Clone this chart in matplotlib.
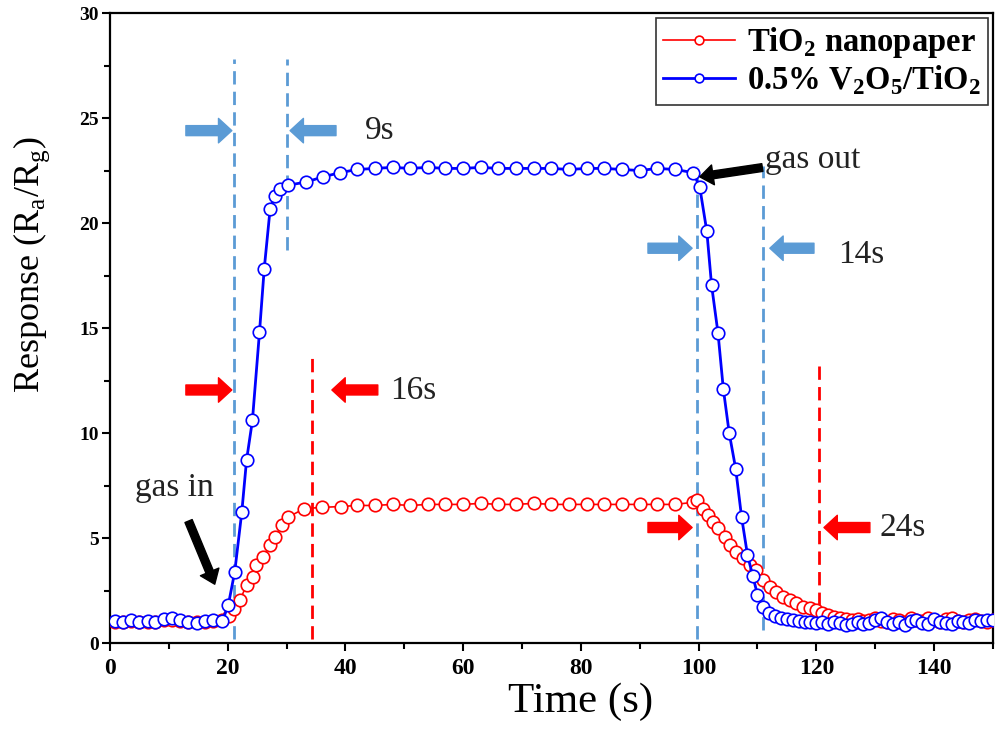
import numpy as np
import matplotlib.pyplot as plt
from matplotlib.ticker import MultipleLocator

plt.rcParams['font.family'] = 'Liberation Serif'
plt.rcParams['mathtext.fontset'] = 'custom'
plt.rcParams['mathtext.rm'] = 'Liberation Serif'
plt.rcParams['mathtext.bf'] = 'Liberation Serif:bold'

# V2O5/TiO2 (blue)
blue_t = [0.8, 2.2, 3.6, 5.0, 6.4, 7.6, 9.2, 10.5, 11.9, 13.3, 14.8, 16.2, 17.5, 19.1,
          20.1, 21.2, 22.4, 23.2, 24.2, 25.4, 26.2, 27.2, 28.0, 28.9, 30.2, 33.3, 36.2, 39.1,
          42, 45, 48, 51, 54, 57, 60, 63, 66, 69, 72, 75, 78, 81, 84, 87, 90, 93, 96,
          99.1, 100.2, 101.4, 102.2, 103.3, 104.2, 105.2, 106.3, 107.3, 108.3, 109.2, 110.0, 111.0,
          112, 113, 114, 115, 116, 117, 118, 119, 120, 121, 122, 123, 124, 125, 126, 127, 128,
          129, 130, 131, 132, 133, 134, 135, 136, 137, 138, 139, 140, 141, 142, 143, 144, 145,
          146, 147, 148, 149, 150]
blue_r = [1.05, 1.0, 1.1, 1.0, 1.05, 1.0, 1.15, 1.2, 1.1, 1.0, 0.95, 1.05, 1.1, 1.05,
          1.8, 3.4, 6.25, 8.7, 10.6, 14.8, 17.8, 20.65, 21.3, 21.6, 21.8, 21.95, 22.2, 22.4,
          22.55, 22.6, 22.65, 22.6, 22.65, 22.6, 22.6, 22.65, 22.6, 22.6, 22.6, 22.6, 22.55,
          22.6, 22.6, 22.55, 22.5, 22.6, 22.55,
          22.4, 21.7, 19.6, 17.05, 14.75, 12.1, 10.0, 8.3, 6.0, 4.2, 3.2, 2.3, 1.73,
          1.45, 1.3, 1.2, 1.15, 1.1, 1.05, 1.0, 1.0, 0.95, 1.0, 0.9, 1.0, 0.95, 0.85, 0.9, 1.0, 0.9,
          0.95, 1.1, 1.2, 1.0, 0.9, 1.0, 0.85, 1.05, 1.1, 0.95, 0.9, 1.15, 1.0, 0.95, 0.9, 1.05, 1.0,
          0.95, 1.1, 1.05, 1.1, 1.1]

# TiO2 nanopaper (red)
red_t = [0.8, 2.2, 3.6, 5.0, 6.4, 7.6, 9.2, 10.5, 11.9, 13.3, 14.8, 16.2, 17.5, 19.1,
         20.3, 21.0, 22.1, 23.2, 24.3, 24.8, 26.0, 27.2, 28.0, 29.2, 30.3, 33.0, 36.1, 39.2,
         42, 45, 48, 51, 54, 57, 60, 63, 66, 69, 72, 75, 78, 81, 84, 87, 90, 93, 96,
         99.1, 99.7, 100.8, 101.6, 102.5, 103.3, 104.5, 105.3, 106.4, 107.6, 108.7, 109.8, 111.0,
         112.1, 113.2, 114.4, 115.5, 116.6, 117.7, 118.9, 120.0, 121.0,
         122, 123, 124, 125, 126, 127, 128, 129, 130, 131, 132, 133, 134, 135, 136, 137, 138,
         139, 140, 141, 142, 143, 144, 145, 146, 147, 148, 149, 150]
red_r = [1.0, 1.0, 1.05, 1.0, 1.0, 1.0, 1.1, 1.1, 1.05, 1.0, 1.0, 1.0, 1.05, 1.1,
         1.3, 1.6, 2.05, 2.76, 3.16, 3.7, 4.1, 4.67, 5.06, 5.6, 6.0, 6.4, 6.46, 6.5,
         6.55, 6.55, 6.6, 6.55, 6.6, 6.6, 6.6, 6.65, 6.6, 6.6, 6.65, 6.6, 6.6, 6.6, 6.6,
         6.6, 6.6, 6.6, 6.6,
         6.7, 6.8, 6.4, 6.1, 5.78, 5.46, 5.06, 4.67, 4.35, 4.03, 3.7, 3.48, 3.0,
         2.68, 2.44, 2.2, 2.05, 1.9, 1.73, 1.65, 1.57, 1.45,
         1.35, 1.25, 1.2, 1.15, 1.1, 1.15, 1.05, 1.1, 1.2, 1.05, 1.0, 1.15, 1.1, 1.0, 1.2, 1.1,
         1.05, 1.2, 1.1, 1.0, 1.15, 1.2, 1.05, 1.0, 1.1, 1.15, 1.05, 1.0, 1.1]

C_BLUE_LINE = '#5B9BD5'

fig = plt.figure(figsize=(9.97, 7.49), dpi=100)
ax = fig.add_axes([0.1103, 0.1415, 0.8856, 0.8411])

ax.plot(red_t, red_r, 'o-', color='red', lw=1.2, markersize=9, markerfacecolor='white',
        markeredgewidth=1.2, label=r'TiO$_\mathbf{2}$ nanopaper', zorder=3)
ax.plot(blue_t, blue_r, 'o-', color='blue', lw=2, markersize=9, markerfacecolor='white',
        markeredgewidth=1.2, label=r'0.5% V$_\mathbf{2}$O$_\mathbf{5}$/TiO$_\mathbf{2}$', zorder=4)

# dashed guide lines
dash = (0, (4.8, 2.6))
lw_d = 2.0
ax.vlines(21.1, 0.2, 27.8, colors=C_BLUE_LINE, lw=lw_d, linestyles=dash, zorder=2)
ax.vlines(30.0, 18.7, 27.8, colors=C_BLUE_LINE, lw=lw_d, linestyles=dash, zorder=2)
ax.vlines(99.7, 0.2, 22.7, colors=C_BLUE_LINE, lw=lw_d, linestyles=dash, zorder=2)
ax.vlines(111.0, 0.6, 22.7, colors=C_BLUE_LINE, lw=lw_d, linestyles=dash, zorder=2)
ax.vlines(34.3, 0.2, 13.8, colors='red', lw=lw_d, linestyles=dash, zorder=2)
ax.vlines(120.4, 0.8, 13.5, colors='red', lw=lw_d, linestyles=dash, zorder=2)

# block arrows
def block(x0, x1, y, color):
    ax.annotate('', xy=(x1, y), xytext=(x0, y),
                arrowprops=dict(arrowstyle='simple,head_length=0.6,head_width=1.1,tail_width=0.45',
                                color=color, shrinkA=0, shrinkB=0, mutation_scale=16), zorder=5)

block(12.9, 20.7, 24.4, C_BLUE_LINE)
block(38.4, 30.6, 24.4, C_BLUE_LINE)
block(12.9, 20.7, 12.05, 'red')
block(45.5, 37.7, 12.05, 'red')
block(91.4, 98.9, 18.8, C_BLUE_LINE)
block(119.6, 112.1, 18.8, C_BLUE_LINE)
block(91.4, 98.9, 5.5, 'red')
block(129.1, 121.3, 5.5, 'red')

tkw = dict(fontsize=24, va='center', ha='left', color='#222222')
ax.text(43.3, 24.4, '9s', **tkw)
ax.text(47.6, 12.0, '16s', **tkw)
ax.text(123.7, 18.5, '14s', **tkw)
ax.text(130.8, 5.5, '24s', **tkw)

ax.annotate('gas in', xy=(17.8, 2.8), xytext=(11.0, 7.4), ha='center', va='center', fontsize=24,
            color='#222222',
            arrowprops=dict(arrowstyle='simple,head_length=0.6,head_width=0.9,tail_width=0.35',
                            color='black', shrinkA=12, shrinkB=0, mutation_scale=16), zorder=6)
ax.annotate('gas out', xy=(100.2, 22.2), xytext=(111.3, 23.0), ha='left', va='center', fontsize=24,
            color='#222222',
            arrowprops=dict(arrowstyle='simple,head_length=0.6,head_width=0.9,tail_width=0.35',
                            color='black', shrinkA=0, shrinkB=0, mutation_scale=16), zorder=6)

ax.set_xlim(0, 150)
ax.set_ylim(0, 30)
ax.xaxis.set_major_locator(MultipleLocator(20))
ax.xaxis.set_minor_locator(MultipleLocator(10))
ax.yaxis.set_major_locator(MultipleLocator(5))
ax.yaxis.set_minor_locator(MultipleLocator(2.5))
ax.tick_params(which='major', direction='out', length=6, width=1.5)
ax.tick_params(which='minor', direction='out', length=4, width=1.5)
ax.tick_params(axis='x', labelsize=17, pad=5)
ax.tick_params(axis='y', labelsize=14, pad=2)
for lab in ax.get_xticklabels() + ax.get_yticklabels():
    lab.set_fontweight('bold')
for sp in ax.spines.values():
    sp.set_linewidth(1.6)

ax.set_xlabel('Time (s)', fontsize=31)
ax.xaxis.set_label_coords(0.533, -0.063)
ax.set_ylabel(r'Response (R$_\mathrm{a}$/R$_\mathrm{g}$)', fontsize=26)
ax.yaxis.set_label_coords(-0.066, 0.6)

leg = ax.legend(loc='upper right', prop={'weight': 'bold', 'size': 23.5}, frameon=True,
                fancybox=False, edgecolor='black', borderaxespad=0.16, handlelength=2.2,
                labelspacing=0.1, borderpad=0.22, handletextpad=0.35, markerscale=0.7)
leg.get_frame().set_linewidth(1.2)

fig.savefig('out.png', dpi=100)
